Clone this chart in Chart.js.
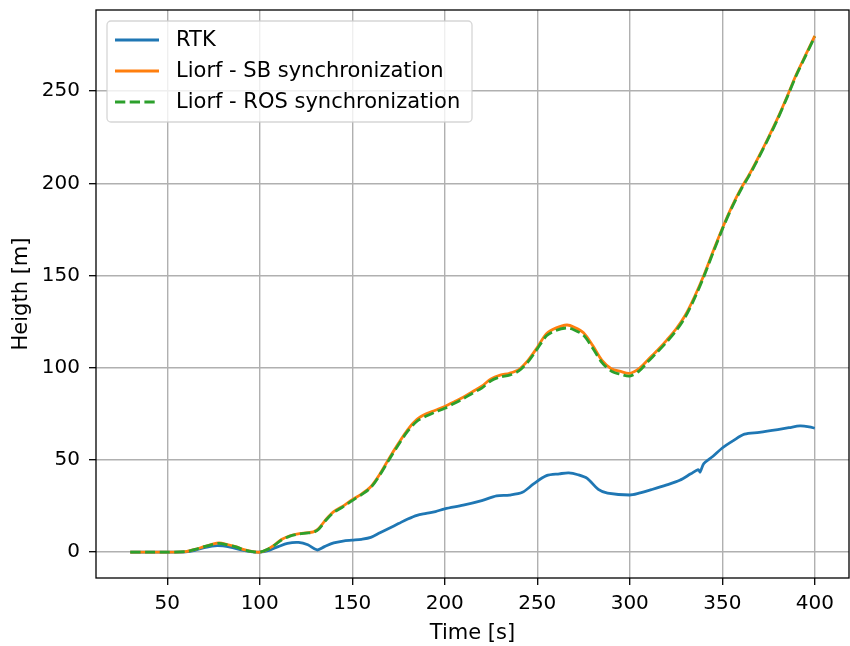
<!DOCTYPE html>
<html>
<head>
<meta charset="utf-8">
<script src="https://cdn.jsdelivr.net/npm/chart.js@4/dist/chart.umd.min.js"></script>
<style>
  html, body { margin: 0; padding: 0; background: #fff; }
  #wrap { width: 850px; height: 646px; }
</style>
</head>
<body>
<div id="wrap"><canvas id="chartHeight" width="850" height="646"></canvas></div>
<script>
// donnees
const timeRtk = [30, 40, 50, 60, 65, 70, 77, 84, 90, 95, 100, 105, 110, 115, 121, 126, 131, 135, 140, 145, 150, 155, 160, 165, 170, 175, 180, 185, 190, 195, 200, 210, 220, 228, 235, 242, 248, 255, 262, 267, 272, 277, 283, 288, 300, 305, 312, 320, 327, 333, 337, 338, 340, 345, 350, 356, 362, 370, 380, 386, 392, 397, 400];
const heightRtk = [0, 0, 0, 0.2, 1, 2.5, 3.6, 2.8, 1.2, 0.3, 0, 1, 3, 4.8, 5.3, 4, 1.2, 3, 5, 6, 6.5, 7, 8, 10.5, 13, 15.5, 18, 20, 21, 22, 23.5, 25.5, 28, 30.5, 31, 32.5, 37, 41.5, 42.5, 43, 42, 40, 34, 32, 31, 32, 34, 36.5, 39, 42.5, 44.8, 43.5, 48, 52, 56.5, 60.5, 64, 65, 66.5, 67.5, 68.5, 68, 67.2];

const timeLiorf = [30, 40, 50, 60, 65, 70, 75, 78, 82, 87, 92, 97, 100, 104, 108, 112, 116, 120, 125, 129, 132, 136, 140, 145, 150, 155, 160, 165, 170, 175, 180, 185, 190, 195, 200, 205, 210, 215, 220, 225, 230, 235, 240, 245, 250, 255, 260, 266, 270, 275, 280, 285, 290, 295, 300, 305, 310, 315, 320, 325, 330, 335, 340, 345, 350, 355, 360, 365, 370, 375, 380, 385, 390, 395, 400];
const heightSb = [0, 0, 0, 0.3, 1.5, 3, 4.5, 5, 4.3, 3, 1.2, 0.2, 0, 1.5, 4, 7, 8.8, 9.8, 10.5, 11, 13, 18, 22, 25, 28.5, 31.5, 35.5, 42.5, 51, 59, 66.5, 72, 75, 77, 79, 81.5, 84, 87, 90, 94, 96, 97, 99, 104, 111, 118.5, 121.5, 123.2, 122, 119, 112, 104, 99.5, 98, 97, 99.5, 104.5, 109.5, 115, 121, 128.5, 138.5, 150, 163, 175.5, 187, 197, 205.5, 215, 225, 235.5, 247, 259, 269.5, 280];
const heightRos = [0, 0, 0, 0.3, 1.5, 3, 4.3, 4.8, 4.1, 2.9, 1.1, 0.2, 0, 1.4, 3.8, 6.8, 8.6, 9.6, 10.3, 10.8, 12.6, 17.6, 21.6, 24.6, 28, 31.2, 35, 42, 50.3, 58.3, 65.6, 71, 73.8, 76, 78, 80.6, 83.2, 86.2, 89, 93, 95, 96, 98.3, 103.2, 110.2, 117.3, 120.2, 121.6, 120.5, 117.6, 110.6, 102.8, 98.2, 96.5, 95.5, 98.2, 103.5, 108.6, 114, 120, 127.5, 137.6, 149.3, 162.3, 175, 186.4, 196.4, 205, 214.5, 224.5, 235, 246.5, 258.5, 269, 279.5];

const xTicks = [50, 100, 150, 200, 250, 300, 350, 400];
const yTicks = [0, 50, 100, 150, 200, 250];

const seriesNames = ['RTK', 'Liorf - SB synchronization', 'Liorf - ROS synchronization'];
const seriesColors = ['#1f77b4', '#ff7f0e', '#2ca02c'];

const police = 'DejaVu Sans';
const taille = 21;
const tailleTicks = 20;

function points(xs, ys) {
    return xs.map((x, i) => ({ x: x, y: ys[i] }));
}

// cadre noir sur les quatre cotes
const cadre = {
    id: 'cadre',
    afterDatasetsDraw(chart) {
        const a = chart.chartArea;
        const ctx = chart.ctx;
        ctx.save();
        ctx.strokeStyle = '#000';
        ctx.lineWidth = 1.3;
        ctx.strokeRect(a.left, a.top, a.right - a.left, a.bottom - a.top);
        ctx.restore();
    }
};

// legende dans le coin haut gauche, facon matplotlib
const legende = {
    id: 'legende',
    afterDraw(chart) {
        const ctx = chart.ctx;
        const a = chart.chartArea;
        const x0 = a.left + 11, y0 = a.top + 11, w = 365, h = 101;
        ctx.save();
        ctx.beginPath();
        ctx.roundRect(x0, y0, w, h, 4);
        ctx.fillStyle = 'rgba(255,255,255,0.8)';
        ctx.fill();
        ctx.strokeStyle = 'rgba(204,204,204,0.8)';
        ctx.lineWidth = 1.3;
        ctx.stroke();
        ctx.font = taille + 'px "' + police + '"';
        ctx.textBaseline = 'middle';
        chart.data.datasets.forEach((ds, i) => {
            const yy = y0 + 19 + i * 31;
            ctx.beginPath();
            ctx.setLineDash(ds.borderDash || []);
            ctx.strokeStyle = ds.borderColor;
            ctx.lineWidth = ds.borderWidth;
            ctx.moveTo(x0 + 8, yy);
            ctx.lineTo(x0 + 52, yy);
            ctx.stroke();
            ctx.setLineDash([]);
            ctx.fillStyle = '#000';
            ctx.fillText(ds.label, x0 + 69, yy + 1);
        });
        ctx.restore();
    }
};

const ctx = document.getElementById('chartHeight').getContext('2d');

new Chart(ctx, {
    type: 'line',
    data: {
        datasets: [
            {
                label: seriesNames[0],
                data: points(timeRtk, heightRtk),
                borderColor: seriesColors[0],
                borderWidth: 2.8,
                order: 2
            },
            {
                label: seriesNames[1],
                data: points(timeLiorf, heightSb),
                borderColor: seriesColors[1],
                borderWidth: 2.8,
                order: 1
            },
            {
                label: seriesNames[2],
                data: points(timeLiorf, heightRos),
                borderColor: seriesColors[2],
                borderWidth: 2.8,
                borderDash: [10.3, 4.4],
                order: 0
            }
        ]
    },
    options: {
        responsive: false,
        animation: false,
        devicePixelRatio: 1,
        layout: { padding: { top: 10, right: 1, left: 0, bottom: 0 } },
        elements: {
            point: { radius: 0 },
            line: { tension: 0.3, borderCapStyle: 'butt' }
        },
        plugins: {
            legend: { display: false },
            tooltip: { enabled: false }
        },
        scales: {
            x: {
                type: 'linear',
                min: 11.5,
                max: 418.5,
                afterBuildTicks: s => { s.ticks = xTicks.map(v => ({ value: v })); },
                afterFit: s => { s.height = 68; s.paddingLeft = 0; s.paddingRight = 0; },
                grid: { color: '#b0b0b0', lineWidth: 1.4, tickColor: '#000', tickLength: 7, tickWidth: 1.3 },
                border: { display: false },
                ticks: { color: '#000', font: { family: police, size: tailleTicks }, padding: 7, maxRotation: 0 },
                title: { display: true, text: 'Time [s]', color: '#000', font: { family: police, size: taille }, padding: { top: 1, bottom: 0 } }
            },
            y: {
                type: 'linear',
                min: -14,
                max: 294,
                afterBuildTicks: s => { s.ticks = yTicks.map(v => ({ value: v })); },
                afterFit: s => { s.width = 96; s.paddingTop = 0; s.paddingBottom = 0; },
                grid: { color: '#b0b0b0', lineWidth: 1.4, tickColor: '#000', tickLength: 7, tickWidth: 1.3 },
                border: { display: false },
                ticks: { color: '#000', font: { family: police, size: tailleTicks }, padding: 9 },
                title: { display: true, text: 'Heigth [m]', color: '#000', font: { family: police, size: taille }, padding: { top: 9, bottom: 4 } }
            }
        }
    },
    plugins: [cadre, legende]
});
</script>
</body>
</html>
